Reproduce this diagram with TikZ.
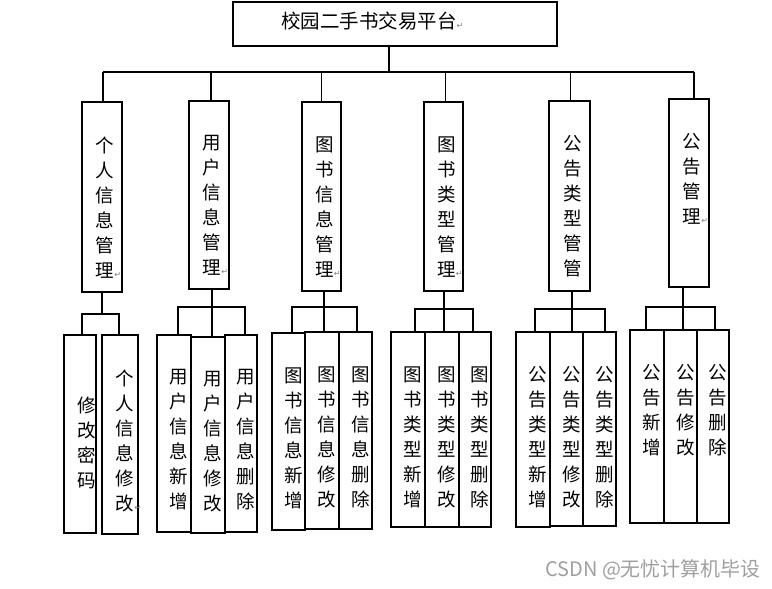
\documentclass[tikz,border=0pt]{standalone}
\usepackage{fontspec}
\setmainfont{Noto Sans CJK SC}
\newfontfamily\symfont{DejaVu Sans}
\newcommand\retmark{\rlap{\symfont\fontsize{8}{8}\selectfont\color{gray}↵}}
\tikzset{
  modbox/.style={draw,line width=1.2pt,inner sep=0pt},
  vtext/.style={align=center,inner sep=0pt,anchor=north,font=\fontsize{18.5}{25}\selectfont},
  link/.style={line width=1.2pt},
}
\begin{document}
\begin{tikzpicture}[x=1pt,y=-1pt]
    \useasboundingbox(0,0)rectangle(772,589);
    % top
    \node[modbox,minimum width=324,minimum height=44](root)at(395,24){};
    \node[inner sep=0pt,anchor=west,font=\fontsize{19.5}{20}\selectfont](title)at(281,21){校园二手书交易平台\retmark};
    % modules
    \foreach \n/\x/\y/\w/\h/\t in {m1/102/197/40/190/{个\\人\\信\\息\\管\\理\retmark},
        m2/209/195/40/188/{用\\户\\信\\息\\管\\理\retmark},
        m3/321.5/196.5/39/189/{图\\书\\信\\息\\管\\理\retmark},
        m4/443.5/196.5/39/189/{图\\书\\类\\型\\管\\理\retmark},
        m5/569.5/196/41/190/{公\\告\\类\\型\\管\\管},
        m6/689/193/40/188/{公\\告\\管\\理\retmark}}{
        \node[modbox,minimum width=\w,minimum height=\h](\n)at(\x,\y){};
        \node[vtext](t\n)at([xshift=3pt,yshift=-35pt]\n.north){\t};
    }
    % functions
    \node[modbox,minimum width=32,minimum height=198](a1)at(80,434){};
    \node[vtext](ta1)at([xshift=7pt,yshift=-62pt]a1.north){修\\改\\密\\码};
    \foreach \n/\x/\y/\w/\h/\t in {a2/120/434.5/36/199/{个\\人\\信\\息\\修\\改\retmark},
        b1/174/433.5/34/197/{用\\户\\信\\息\\新\\增},
        b2/208/435/34/196/{用\\户\\信\\息\\修\\改},
        b3/241/433.5/32/197/{用\\户\\信\\息\\删\\除},
        c1/288.5/431.5/33/197/{图\\书\\信\\息\\新\\增},
        c2/322/430.5/34/197/{图\\书\\信\\息\\修\\改},
        c3/355.5/430.5/33/197/{图\\书\\信\\息\\删\\除},
        d1/408/429.5/34/195/{图\\书\\类\\型\\新\\增},
        d2/442/429.5/34/195/{图\\书\\类\\型\\修\\改},
        d3/475/429.5/32/195/{图\\书\\类\\型\\删\\除},
        e1/533/429.5/34/195/{公\\告\\类\\型\\新\\增},
        e2/566.5/429/33/194/{公\\告\\类\\型\\修\\改},
        e3/599.5/429/33/194/{公\\告\\类\\型\\删\\除},
        f1/647/426.5/34/193/{公\\告\\新\\增},
        f2/680.5/426.5/33/193/{公\\告\\修\\改},
        f3/713/426.5/32/193/{公\\告\\删\\除}}{
        \node[modbox,minimum width=\w,minimum height=\h](\n)at(\x,\y){};
        \node[vtext](t\n)at([xshift=5pt,yshift=-35pt]\n.north){\t};
    }
    % top bus
    \coordinate(bus)at(389,72);
    \draw[link](root.south -| bus)--(bus);
    \draw[link]([xshift=1pt]m1.north |- bus)--([xshift=5pt]m6.north |- bus);
    \foreach \m/\dx in {m1/1,m2/2,m3/0,m4/2,m5/1,m6/5}
        \draw[link]([xshift=\dx pt]\m.north |- bus)--([xshift=\dx pt]\m.north);
    % group buses
    \coordinate(jm1)at(102,314);
    \draw[link](m1.south -| jm1)--(jm1);
    \draw[link]([xshift=2pt]a1.north)|-(jm1)-|([xshift=-1pt]a2.north);
    \foreach \p/\l/\c/\r/\cx/\by/\dl/\dr in {m2/b1/b2/b3/212/307/4/4,
        m3/c1/c2/c3/324/307/3.5/1.5,
        m4/d1/d2/d3/444/309/7/-2,
        m5/e1/e2/e3/572/309/2/5.5,
        m6/f1/f2/f3/683/307/-1/2}{
        \coordinate(j\p)at(\cx,\by);
        \draw[link](\p.south -| j\p)--(j\p |- \c.north);
        \draw[link]([xshift=\dl pt]\l.north)|-(j\p)-|([xshift=\dr pt]\r.north);
    }
    \node[anchor=west,inner sep=0pt,text=gray!75,font=\fontsize{20}{20}\selectfont](wm)at(545,570){CSDN @无忧计算机毕设};
\end{tikzpicture}
\end{document}
